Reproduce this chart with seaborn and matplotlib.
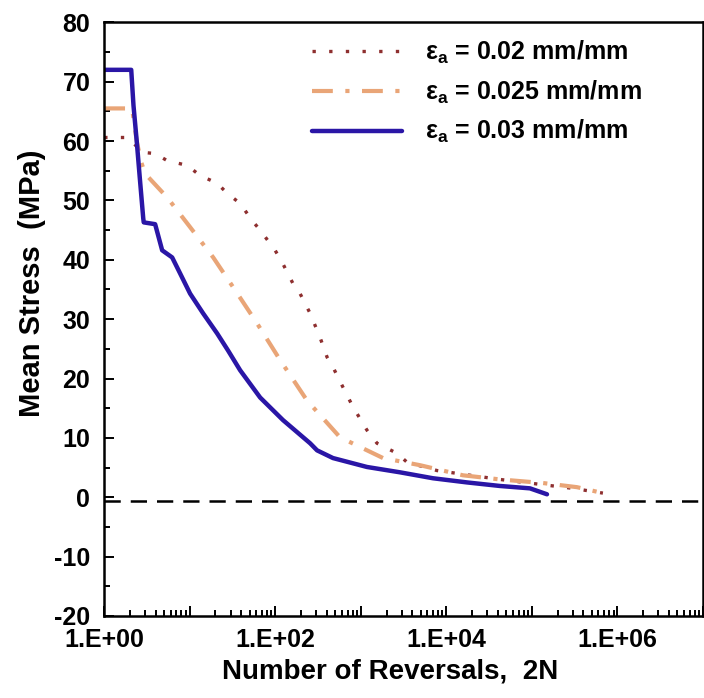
import numpy as np
import pandas as pd
import matplotlib
matplotlib.use("Agg")
import matplotlib.pyplot as plt
import matplotlib.ticker as mticker
import seaborn as sns

# Mean stress relaxation curves for three strain amplitudes
rev_002 = [1, 1.91, 2.78, 3.94, 5.45, 9.33, 13.2, 20.9, 27.4, 38.8, 53.6, 66.5, 99.5,
           120, 161, 195, 255, 334, 403, 473, 620, 811, 1180, 1545, 2650, 3470, 7760,
           42300, 301000, 676000]
ms_002 = [60.6, 60.6, 58.1, 57.9, 56.7, 55.9, 54.2, 52.9, 51.2, 49.5, 46.6, 45.0, 41.6,
          39.6, 36.0, 34.3, 31.0, 26.9, 23.6, 21.9, 18.5, 15.2, 11.3, 9.1, 7.4, 5.9, 4.5,
          3.0, 1.5, 0.7]

rev_0025 = [1, 2.12, 2.4, 2.7, 3.01, 5.45, 10.1, 18.8, 32.1, 61.2, 114, 235, 571, 1820,
            4920, 15600, 42500, 134000, 336000, 676000]
ms_0025 = [65.5, 65.5, 60.0, 56.5, 54.5, 50.5, 45.5, 40.4, 35.4, 29.3, 23.1, 16.3, 10.1,
           6.6, 5.4, 3.7, 3.0, 2.4, 1.7, 0.7]

rev_003 = [1, 2.07, 2.2, 2.4, 2.6, 2.86, 2.9, 3.94, 4.76, 6.23, 7.72, 10.1, 14.3, 20.9,
           28.1, 38.8, 66.5, 123, 255, 308, 473, 1180, 2870, 6970, 17400, 42300, 94800,
           150000]
ms_003 = [72.0, 72.0, 66.0, 60.0, 54.0, 47.0, 46.3, 46.0, 41.6, 40.4, 37.7, 34.3, 31.0,
          27.6, 24.7, 21.4, 16.8, 13.0, 9.1, 7.9, 6.6, 5.1, 4.2, 3.2, 2.5, 1.9, 1.5, 0.5]

labels = ["ε$_\\mathbf{a}$ = 0.02 mm/mm",
          "ε$_\\mathbf{a}$ = 0.025 mm/mm",
          "ε$_\\mathbf{a}$ = 0.03 mm/mm"]
zero_line = -0.7

sns.set_style("white")
plt.rcParams["font.family"] = ["Liberation Sans", "DejaVu Sans"]
plt.rcParams["font.weight"] = "bold"
plt.rcParams["mathtext.fontset"] = "custom"
plt.rcParams["mathtext.rm"] = "Liberation Sans:bold"
plt.rcParams["mathtext.bf"] = "Liberation Sans:bold"
plt.rcParams["axes.unicode_minus"] = False
for key in ["text.color", "axes.labelcolor", "xtick.color", "ytick.color"]:
    plt.rcParams[key] = "black"

fig = plt.figure(figsize=(7.04, 6.98), dpi=100)
ax = fig.add_axes([0.148, 0.1175, 0.8506, 0.8505])

styles = [
    dict(color="#8e2f2f", lw=2.4, ls=(0, (1, 4))),
    dict(color="#e9a577", lw=3.0, ls=(0, (5, 3, 1, 3))),
    dict(color="#2a16a6", lw=3.2, ls="-"),
]
series = [(rev_002, ms_002), (rev_0025, ms_0025), (rev_003, ms_003)]
for (x, y), lab, st in zip(series, labels, styles):
    df = pd.DataFrame({"rev": x, "ms": y})
    sns.lineplot(data=df, x="rev", y="ms", ax=ax, sort=False, estimator=None,
                 label=lab, color=st["color"], linewidth=st["lw"], linestyle=st["ls"])

ax.axhline(zero_line, color="black", lw=1.8, ls=(0, (6.5, 4)), zorder=1)

ax.set_xscale("log")
ax.set_xlim(1, 1e7)
ax.set_ylim(-20, 80)

ax.xaxis.set_major_locator(mticker.LogLocator(base=10, numticks=20))
ax.xaxis.set_minor_locator(mticker.LogLocator(base=10, subs=np.arange(2, 10), numticks=100))

def fmt(v, pos):
    e = int(round(np.log10(v)))
    if e % 2 == 0 and e <= 6:
        return f"1.E+{e:02d}"
    return ""

ax.xaxis.set_major_formatter(mticker.FuncFormatter(fmt))
ax.xaxis.set_minor_formatter(mticker.NullFormatter())
ax.yaxis.set_major_locator(mticker.MultipleLocator(10))
ax.yaxis.set_minor_locator(mticker.MultipleLocator(5))

ax.tick_params(axis="both", which="both", direction="in", bottom=True, left=True,
               top=False, right=False, color="black", width=1.4)
ax.tick_params(axis="both", which="major", length=7, labelsize=18)
ax.tick_params(axis="both", which="minor", length=4)
ax.tick_params(axis="x", which="major", pad=9)
ax.tick_params(axis="y", which="major", pad=10)
for t in ax.get_xticklabels() + ax.get_yticklabels():
    t.set_fontweight("bold")

for s in ax.spines.values():
    s.set_color("black")
    s.set_linewidth(1.8)

ax.set_xlabel("Number of Reversals,  2N", fontsize=20, fontweight="bold", labelpad=4)
ax.set_ylabel("Mean Stress  (MPa)", fontsize=21, fontweight="bold", labelpad=6)
ax.xaxis.label.set_x(0.478)
ax.yaxis.label.set_y(0.56)

leg = ax.legend(loc="upper right", bbox_to_anchor=(0.935, 1.01), frameon=False,
                fontsize=18, handlelength=3.6, handletextpad=0.9, labelspacing=0.5)
for t in leg.get_texts():
    t.set_fontweight("bold")

fig.savefig("out.png", dpi=100)
